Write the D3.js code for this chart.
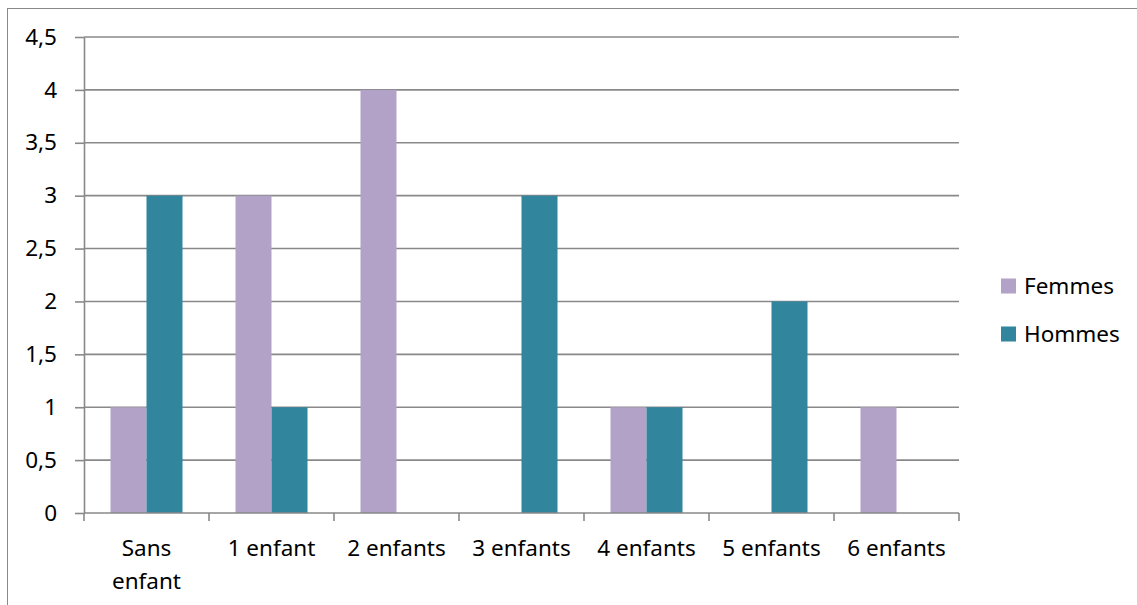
<!DOCTYPE html>
<html>
<head>
<meta charset="utf-8">
<script src="https://cdn.jsdelivr.net/npm/d3@7"></script>
<style>
    body { margin: 0; background: #fff; }
    text { font-family: "Noto Sans", sans-serif; font-size: 22.5px; fill: #000; }
</style>
</head>
<body>
<svg id="chart" width="1137" height="605"></svg>
<script>
// data
const categories = ['Sans enfant', '1 enfant', '2 enfants', '3 enfants', '4 enfants', '5 enfants', '6 enfants'];
const seriesNames = ['Femmes', 'Hommes'];
const femmes = [1, 3, 4, 0, 1, 0, 1];
const hommes = [3, 1, 0, 3, 1, 2, 0];
const yTicks = [0, 0.5, 1, 1.5, 2, 2.5, 3, 3.5, 4, 4.5];
const colors = ['#b3a2c7', '#31859c'];

const
    svg = d3.select('#chart'),
    plot = { left: 84, right: 959, top: 37, bottom: 513 },
    gridColor = '#898989';

// outer border (only top and left visible in frame)
svg.append('rect')
    .attr('x', 7.5).attr('y', 8.5)
    .attr('width', 1200).attr('height', 700)
    .attr('fill', 'none')
    .attr('stroke', gridColor)
    .attr('stroke-width', 1);

const x = d3.scaleBand()
    .domain(categories)
    .range([plot.left, plot.right]);

const xSub = d3.scaleBand()
    .domain(seriesNames)
    .range([0, x.bandwidth()])
    .paddingOuter(0.736);

const y = d3.scaleLinear()
    .domain([0, 4.5])
    .range([plot.bottom, plot.top]);

const fmt = v => String(v).replace('.', ',');

// gridlines
svg.append('g')
    .selectAll('line')
    .data(yTicks.filter(v => v > 0))
    .join('line')
    .attr('x1', plot.left).attr('x2', plot.right)
    .attr('y1', d => y(d)).attr('y2', d => y(d))
    .attr('stroke', gridColor)
    .attr('stroke-width', 1.6);

// bars
const rows = categories.map((c, i) => ({ cat: c, values: [femmes[i], hommes[i]] }));

svg.append('g')
    .selectAll('g')
    .data(rows)
    .join('g')
    .attr('transform', d => `translate(${x(d.cat)},0)`)
    .selectAll('rect')
    .data(d => d.values.map((v, j) => ({ name: seriesNames[j], value: v, color: colors[j] })))
    .join('rect')
    .attr('x', d => xSub(d.name))
    .attr('width', xSub.bandwidth())
    .attr('y', d => y(d.value))
    .attr('height', d => y(0) - y(d.value))
    .attr('fill', d => d.color);

// y axis
const yAxis = svg.append('g')
    .attr('transform', `translate(${plot.left},0)`)
    .call(d3.axisLeft(y).tickValues(yTicks).tickFormat(fmt).tickSize(9).tickSizeOuter(0).tickPadding(18));

// x axis: ticks on band boundaries
const xAxis = svg.append('g');
xAxis.append('line')
    .attr('x1', plot.left).attr('x2', plot.right)
    .attr('y1', plot.bottom).attr('y2', plot.bottom);
xAxis.selectAll('.tick')
    .data(categories.map(c => x(c)).concat([plot.right]))
    .join('line')
    .attr('class', 'tick')
    .attr('x1', d => d).attr('x2', d => d)
    .attr('y1', plot.bottom).attr('y2', plot.bottom + 8);

xAxis.selectAll('text')
    .data(categories)
    .join('text')
    .attr('x', d => x(d) + x.bandwidth() / 2)
    .attr('y', plot.bottom + 35)
    .attr('text-anchor', 'middle')
    .text(d => d)
    .each(function (d) { wrap(d3.select(this), x.bandwidth() - 6); });

// axis styling
svg.selectAll('.domain, .tick line, g line')
    .attr('stroke', gridColor)
    .attr('stroke-width', 1.6);
yAxis.selectAll('text').style('font-size', '22.5px').style('font-family', '"Noto Sans", sans-serif').attr('fill', '#000');
yAxis.select('.domain').attr('stroke', gridColor);

// legend
const legend = svg.append('g')
    .selectAll('g')
    .data(seriesNames)
    .join('g')
    .attr('transform', (d, i) => `translate(1001,${286 + i * 48})`);

legend.append('rect')
    .attr('x', 0).attr('y', -7.5)
    .attr('width', 15).attr('height', 15)
    .attr('fill', (d, i) => colors[i]);

legend.append('text')
    .attr('x', 23).attr('y', 0)
    .attr('dy', '0.35em')
    .text(d => d);


// wrap long category labels over two lines
function wrap(textSel, width) {
    const words = textSel.text().split(/\s+/);
    const x0 = textSel.attr('x');
    textSel.text(null);
    let line = [],
        lineNo = 0,
        tspan = textSel.append('tspan').attr('x', x0).attr('dy', '0.35em');
    words.forEach(w => {
        line.push(w);
        tspan.text(line.join(' '));
        if (tspan.node().getComputedTextLength() > width && line.length > 1) {
            line.pop();
            tspan.text(line.join(' '));
            line = [w];
            lineNo++;
            tspan = textSel.append('tspan').attr('x', x0).attr('dy', '1.45em').text(w);
        }
    });
}
</script>
</body>
</html>
